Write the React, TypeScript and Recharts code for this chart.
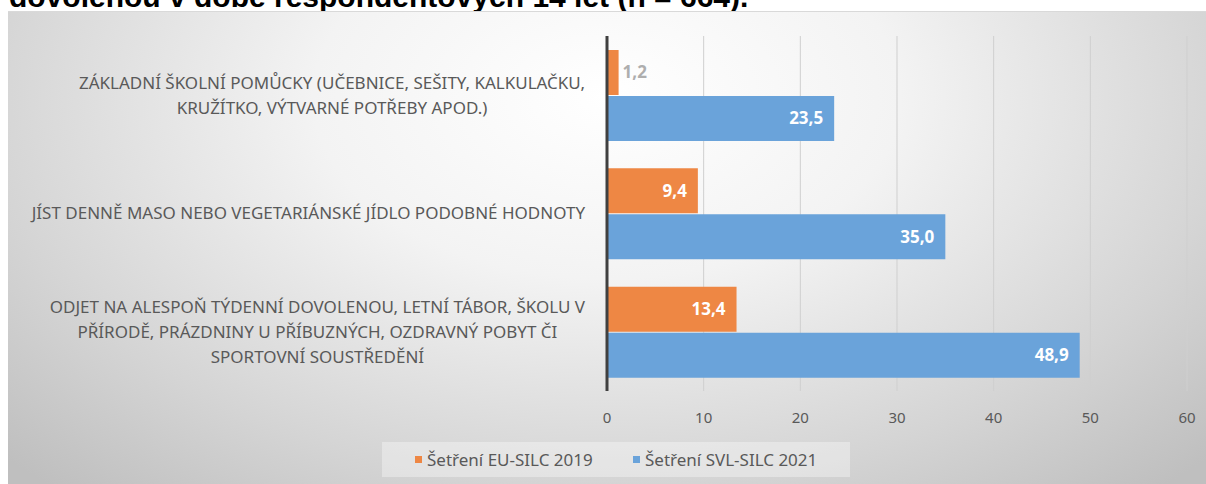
import React from 'react';
import { BarChart, Bar, XAxis, YAxis, CartesianGrid, Legend, LabelList } from 'recharts';

// Poverty indicators chart: EU-SILC 2019 vs SVL-SILC 2021

const categoryLines: string[][] = [
  ['ZÁKLADNÍ ŠKOLNÍ POMŮCKY (UČEBNICE, SEŠITY, KALKULAČKU,', 'KRUŽÍTKO, VÝTVARNÉ POTŘEBY APOD.)'],
  ['JÍST DENNĚ MASO NEBO VEGETARIÁNSKÉ JÍDLO PODOBNÉ HODNOTY'],
  [
    'ODJET NA ALESPOŇ TÝDENNÍ DOVOLENOU, LETNÍ TÁBOR, ŠKOLU V',
    'PŘÍRODĚ, PRÁZDNINY U PŘÍBUZNÝCH, OZDRAVNÝ POBYT ČI',
    'SPORTOVNÍ SOUSTŘEDĚNÍ',
  ],
];
const categories = categoryLines.map((lines) => lines.join(' '));
const seriesNames = ['Šetření EU-SILC 2019', 'Šetření SVL-SILC 2021'];
const eu2019 = [1.2, 9.4, 13.4];
const svl2021 = [23.5, 35.0, 48.9];
const xTicks = [0, 10, 20, 30, 40, 50, 60];

const ORANGE = '#EE8744';
const BLUE = '#6AA3DA';
const TEXT = '#595959';
const FONT = '"Noto Sans", "Open Sans", sans-serif';
const LABEL_SIZE = 17;

const data = categories.map((category, i) => ({
  category,
  eu: eu2019[i],
  svl: svl2021[i],
}));

let measureCtx: CanvasRenderingContext2D | null = null;
function measure(text: string): number {
  if (!measureCtx) measureCtx = document.createElement('canvas').getContext('2d');
  if (!measureCtx) return text.length * 10;
  measureCtx.font = `${LABEL_SIZE}px ${FONT}`;
  return measureCtx.measureText(text).width;
}

const CategoryTick = (props: any) => {
  const { x, y, index } = props;
  const lines = categoryLines[index] ?? [String(props.payload?.value ?? '')];
  const maxW = Math.max(...lines.map(measure));
  const cx = x - maxW / 2;
  const lh = 25;
  const startY = y - ((lines.length - 1) * lh) / 2;
  return (
    <text textAnchor="middle" fill={TEXT} fontSize={LABEL_SIZE} fontFamily={FONT}>
      {lines.map((line, i) => (
        <tspan key={i} x={cx} y={startY + i * lh} dy="0.35em">
          {line}
        </tspan>
      ))}
    </text>
  );
};

const fmt = (v: number) => v.toFixed(1).replace('.', ',');

const ValueLabel = (props: any) => {
  const box = props.viewBox ?? props;
  const { x, y, width, height } = box;
  const value = Number(props.value);
  const small = width < 40;
  return (
    <text
      x={small ? x + width + 4 : x + width - 11}
      y={y + height / 2}
      dy="0.35em"
      textAnchor={small ? 'start' : 'end'}
      fill={small ? '#AEAEAE' : '#FFFFFF'}
      fontSize={17}
      fontWeight={700}
      fontFamily={FONT}
    >
      {fmt(value)}
    </text>
  );
};

const LegendBox = () => (
  <div
    style={{
      position: 'relative',
      width: 468,
      height: 35,
      background: 'rgba(255,255,255,0.35)',
      fontFamily: FONT,
      fontSize: 17,
      color: TEXT,
    }}
  >
    {[ORANGE, BLUE].map((c, i) => (
      <div
        key={i}
        style={{
          position: 'absolute',
          left: i === 0 ? 33 : 251,
          top: 0,
          height: 35,
          display: 'flex',
          alignItems: 'center',
          whiteSpace: 'nowrap',
        }}
      >
        <span style={{ width: 7, height: 7, background: c, marginRight: 5, display: 'inline-block' }} />
        {seriesNames[i]}
      </div>
    ))}
  </div>
);

export default function App() {
  return (
    <div
      style={{
        position: 'fixed',
        left: 0,
        top: 0,
        width: 1206,
        height: 484,
        overflow: 'hidden',
        background: '#ffffff',
      }}
    >
      <div
        style={{
          position: 'absolute',
          left: 9,
          top: -18,
          fontFamily: '"Liberation Sans", Arial, sans-serif',
          fontWeight: 700,
          fontSize: 30,
          lineHeight: '30px',
          color: '#000',
          whiteSpace: 'nowrap',
        }}
      >
        dovolenou v době respondentových 14 let (n = 664).
      </div>
      <div
        style={{
          position: 'absolute',
          left: 8,
          top: 11,
          width: 1198,
          height: 473,
          borderTop: '1px solid #d9d9d9',
          boxSizing: 'border-box',
          background:
            'radial-gradient(ellipse 70% 110% at 50% 18%, #ffffff 0%, #f3f3f3 35%, #d4d4d4 75%, #bfbfbf 100%)',
        }}
      >
        <BarChart
          width={1198}
          height={473}
          layout="vertical"
          data={data}
          margin={{ top: 24, right: 19, bottom: 64, left: 0 }}
          barCategoryGap={14}
          barGap={1}
        >
          <CartesianGrid horizontal={false} stroke="#CFCFCF" />
          <XAxis
            type="number"
            domain={[0, 60]}
            ticks={xTicks}
            axisLine={false}
            tickLine={false}
            tickSize={0}
            tickMargin={21}
            height={30}
            tick={{ fill: TEXT, fontSize: 15, fontFamily: FONT }}
          />
          <YAxis
            type="category"
            dataKey="category"
            width={599}
            interval={0}
            tickSize={0}
            tickMargin={22}
            tickLine={false}
            axisLine={{ stroke: '#404040', strokeWidth: 3 }}
            tick={<CategoryTick />}
          />
          <Legend
            layout="horizontal"
            verticalAlign="middle"
            align="center"
            wrapperStyle={{ left: 374, top: 430, width: 468, height: 35 }}
            content={() => <LegendBox />}
          />
          <Bar dataKey="eu" name={seriesNames[0]} fill={ORANGE} isAnimationActive={false}>
            <LabelList dataKey="eu" content={<ValueLabel />} />
          </Bar>
          <Bar dataKey="svl" name={seriesNames[1]} fill={BLUE} isAnimationActive={false}>
            <LabelList dataKey="svl" content={<ValueLabel />} />
          </Bar>
        </BarChart>
      </div>
    </div>
  );
}
